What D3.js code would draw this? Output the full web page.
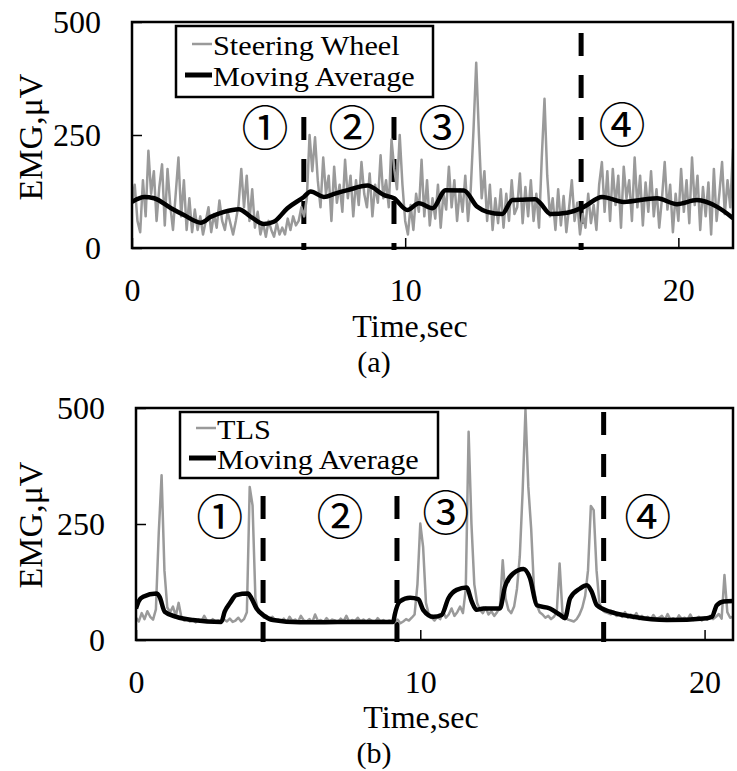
<!DOCTYPE html>
<html>
<head>
<meta charset="utf-8">
<script src="https://cdn.jsdelivr.net/npm/d3@7"></script>
<style>
    body { margin: 0; background: #fff; }
    text { font-family: "Liberation Serif", "Times New Roman", serif; fill: #000; }
</style>
</head>
<body>
<div id="chart"></div>
<script>
// sampling step of the raw EMG traces, seconds
const rawStep = 0.1;

// (a) steering wheel EMG, one value every 0.1 s from 0 to 22 s
const steeringRaw = [
    100, 140, 60, 35, 150, 70,
    215, 120, 170, 60, 135,
    185, 50, 175, 95, 40,
    120, 200, 70, 150, 40,
    110, 35, 85, 40, 70,
    30, 60, 90, 35, 75,
    45, 105, 60, 40, 80,
    55, 30, 60, 95, 175,
    90, 160, 60, 130, 45,
    80, 30, 55, 25, 60,
    40, 25, 55, 30, 45,
    30, 65, 40, 70, 50,
    60, 90, 70,
    110, 250, 170, 245, 150, 90, 200, 120, 160, 60, 180, 100,
    140, 80, 195, 110, 160,
    70, 150, 95, 190, 120,
    90, 165, 70, 140, 100,
    205, 110, 150, 90, 240,
    175, 130, 250, 140, 60,
    30, 95, 40, 120, 80,
    195, 70, 150, 50, 110,
    65, 140, 45, 120, 85,
    180, 90, 150, 60, 130,
    80, 160, 60, 130, 260,
    410, 250, 110, 170, 60,
    140, 40, 110, 55, 130,
    45, 120, 60, 150, 75,
    90, 165, 55, 135, 70,
    150, 60, 120, 45, 200,
    330, 160, 70, 110, 40,
    130, 50, 115, 35, 90,
    150, 60, 100, 30, 75,
    45, 120, 55, 95, 40,
    140, 190, 80, 170, 60,
    175, 95, 160, 45, 180,
    110, 150, 60, 200, 90,
    160, 50, 145, 80, 170,
    70, 130, 45, 110, 190,
    85, 140, 35, 120, 60,
    175, 80, 150, 55, 200,
    95, 160, 40, 135, 70,
    145, 30, 175, 60, 120,
    190, 75, 150, 90, 220
];

// (a) moving average
const steeringAvgTime = [
    0, 0.45, 0.81, 1.43, 1.9, 2.52, 2.89, 3.37, 3.91, 4.35,
    4.83, 5.19, 5.69, 6.29, 6.54, 7.02, 7.46, 7.89, 8.62, 9.23,
    9.59, 10.08, 10.5, 11.0, 11.48, 12.15, 12.64, 13.0, 13.55, 13.92,
    14.3, 14.77, 14.95, 15.32, 15.93, 16.54, 17.21, 18.0, 19.22, 19.95,
    20.68, 21.42, 22.0
];
const steeringAvgValue = [
    102, 113, 110, 88, 73, 56, 69, 80, 86, 69,
    53, 58, 88, 113, 125, 113, 121, 128, 138, 117,
    110, 84, 99, 88, 128, 127, 91, 80, 75, 106,
    107, 108, 99, 75, 78, 91, 113, 102, 110, 97,
    106, 91, 66
];

// (a) phase boundaries, seconds
const steeringPhases = [6.29, 9.59, 16.44];

// (b) TLS EMG, one value every 0.1 s from 0 to 21 s
const tlsRaw = [
    48, 40, 58, 45, 62, 50, 44, 66, 230, 355,
    150, 70, 60, 72, 52, 80, 48, 42, 45, 40,
    43, 38, 44, 40, 52, 41, 39, 45, 40, 42,
    38, 44, 40, 46, 39, 42, 48, 40, 45, 60,
    330, 290, 90, 60, 55, 48, 52, 45, 50, 42,
    44, 40, 46, 38, 50, 41, 44, 39, 52, 42,
    40, 45, 38, 55, 41, 43, 39, 47, 40, 44,
    42, 38, 46, 40, 52, 39, 43, 41, 48, 40,
    44, 39, 45, 41, 38, 47, 40, 43, 39, 42,
    40, 38, 44, 36, 40, 45, 42, 48, 55, 120,
    251, 200, 80, 55, 48, 42, 50, 45, 62, 48,
    55, 68, 52, 60, 72, 58, 110, 449, 250, 120,
    80, 65, 58, 70, 55, 62, 52, 60, 70, 172,
    90, 65, 58, 72, 110, 180, 320, 496, 330, 240,
    110, 75, 60, 55, 48, 52, 45, 50, 60, 165,
    60, 48, 44, 42, 40, 45, 55, 70, 95, 150,
    289, 280, 150, 80, 65, 60, 58, 55, 62, 52,
    56, 50, 60, 48, 55, 47, 58, 45, 52, 46,
    50, 44, 54, 45, 48, 52, 43, 56, 44, 47,
    42, 53, 45, 48, 44, 55, 43, 46, 50, 42,
    48, 44, 52, 45, 50, 56, 46, 140, 60, 48,
    50
];

// (b) moving average
const tlsAvgTime = [
    0, 0.1, 0.25, 0.72, 0.83, 1.01, 1.42, 2.0, 3.0, 3.12,
    3.3, 3.53, 3.94, 4.06, 4.24, 4.47, 4.82, 5.76, 7.1, 9.05,
    9.1, 9.28, 9.64, 9.93, 10.1, 10.46, 10.75, 10.99, 11.28, 11.63,
    11.81, 11.98, 12.22, 12.8, 12.98, 13.28, 13.63, 13.86, 14.1, 14.56,
    14.92, 15.09, 15.27, 15.62, 15.86, 16.03, 16.21, 16.68, 17.5, 18.67,
    20.08, 20.26, 20.43, 20.67, 21.0
];
const tlsAvgValue = [
    68, 84, 93, 100, 93, 61, 50, 43, 39, 61,
    79, 97, 100, 90, 68, 54, 43, 38, 39, 39,
    54, 83, 91, 88, 65, 50, 54, 90, 108, 113,
    83, 65, 68, 68, 115, 144, 153, 133, 75, 68,
    54, 47, 90, 111, 118, 104, 75, 61, 50, 43,
    47, 50, 75, 83, 84
];

// (b) phase boundaries, seconds
const tlsPhases = [4.47, 9.18, 16.45];

const yTicks      = [0, 250, 500];
const xTicks      = [0, 10, 20];
const phaseNames  = ['①', '②', '③', '④'];
const yTitle      = 'EMG,μV';
const xTitle      = 'Time,sec';

const WIDTH  = 737;
const HEIGHT = 771;
const GRAY   = '#9a9a9a';

const panels = [
    {
        key: 'a', raw: steeringRaw, avgT: steeringAvgTime, avgV: steeringAvgValue,
        phases: steeringPhases, tMax: 22, rawName: 'Steering Wheel', caption: '(a)',
        box: { left: 132, right: 733, top: 22, bottom: 248 },
        legend: { x: 176, y: 26, w: 257, h: 71, row1: 55, row2: 86 },
        dashTop: 33,
        phaseAt: [[4.87, 265], [8.05, 265], [11.35, 265], [17.94, 272]],
        yTitleY: 137, xTitleX: 410, xTitleY: 337, captionY: 372
    },
    {
        key: 'b', raw: tlsRaw, avgT: tlsAvgTime, avgV: tlsAvgValue,
        phases: tlsPhases, tMax: 21, rawName: 'TLS', caption: '(b)',
        box: { left: 136, right: 733, top: 408, bottom: 640 },
        legend: { x: 180, y: 412, w: 258, h: 66, row1: 439, row2: 469 },
        dashTop: 412,
        phaseAt: [[2.95, 265], [7.18, 265], [10.9, 274], [18.0, 265]],
        yTitleY: 525, xTitleX: 421, xTitleY: 728, captionY: 763
    }
];

const svg = d3.select('#chart').append('svg')
    .attr('width', WIDTH)
    .attr('height', HEIGHT);

function drawPanel(p) {
    const b = p.box;
    const x = d3.scaleLinear().domain([0, p.tMax]).range([b.left, b.right]);
    const y = d3.scaleLinear().domain([0, 500]).range([b.bottom, b.top]);
    const g = svg.append('g').attr('class', 'panel-' + p.key);

    const clipId = 'clip-' + p.key;
    g.append('clipPath').attr('id', clipId)
        .append('rect')
        .attr('x', b.left).attr('y', b.top)
        .attr('width', b.right - b.left).attr('height', b.bottom - b.top);

    // phase boundaries
    g.selectAll('.phase')
        .data(p.phases)
        .enter().append('line')
        .attr('x1', d => x(d)).attr('x2', d => x(d))
        .attr('y1', p.dashTop).attr('y2', b.bottom + 2)
        .attr('stroke', '#000')
        .attr('stroke-width', 5)
        .attr('stroke-dasharray', '23 19');

    const plot = g.append('g').attr('clip-path', `url(#${clipId})`);

    const rawLine = d3.line()
        .x((d, i) => x(i * rawStep))
        .y(d => y(d));
    plot.append('path')
        .datum(p.raw)
        .attr('d', rawLine)
        .attr('fill', 'none')
        .attr('stroke', GRAY)
        .attr('stroke-width', 2.5)
        .attr('stroke-linejoin', 'round');

    const avgLine = d3.line()
        .curve(d3.curveMonotoneX)
        .x(i => x(p.avgT[i]))
        .y(i => y(p.avgV[i]));
    plot.append('path')
        .datum(d3.range(p.avgT.length))
        .attr('d', avgLine)
        .attr('fill', 'none')
        .attr('stroke', '#000')
        .attr('stroke-width', 4.5)
        .attr('stroke-linejoin', 'round');

    // axes with inward ticks
    const yAxis = d3.axisLeft(y).tickValues(yTicks).tickSizeInner(-10).tickSizeOuter(0).tickPadding(31);
    const xAxis = d3.axisBottom(x).tickValues(xTicks).tickSizeInner(-10).tickSizeOuter(0).tickPadding(30);

    const ya = g.append('g').attr('transform', `translate(${b.left},0)`).call(yAxis);
    const xa = g.append('g').attr('transform', `translate(0,${b.bottom})`).call(xAxis);
    [ya, xa].forEach(a => {
        a.attr('font-family', null).attr('font-size', null);
        a.select('.domain').remove();
        a.selectAll('line').attr('stroke', '#000').attr('stroke-width', 1.5);
        a.selectAll('text').attr('font-size', 32).attr('fill', '#000');
    });

    // frame
    g.append('rect')
        .attr('x', b.left).attr('y', b.top)
        .attr('width', b.right - b.left).attr('height', b.bottom - b.top)
        .attr('fill', 'none')
        .attr('stroke', '#000')
        .attr('stroke-width', 2.5);

    // legend (text slightly widened, like the original figure)
    const L = p.legend;
    const lg = g.append('g');
    lg.append('rect')
        .attr('x', L.x).attr('y', L.y).attr('width', L.w).attr('height', L.h)
        .attr('fill', '#fff').attr('stroke', '#000').attr('stroke-width', 2.5);
    lg.append('line')
        .attr('x1', L.x + 16).attr('x2', L.x + 36)
        .attr('y1', L.row1 - 11).attr('y2', L.row1 - 11)
        .attr('stroke', GRAY).attr('stroke-width', 2.5);
    lg.append('line')
        .attr('x1', L.x + 9).attr('x2', L.x + 36)
        .attr('y1', L.row2 - 11).attr('y2', L.row2 - 11)
        .attr('stroke', '#000').attr('stroke-width', 5);
    lg.selectAll('.legend-label')
        .data([[p.rawName, L.row1], ['Moving Average', L.row2]])
        .enter().append('text')
        .attr('transform', d => `translate(${L.x + 37},${d[1]}) scale(1.1,1)`)
        .attr('font-size', 27.5)
        .text(d => d[0]);

    // phase numbers
    g.selectAll('.phase-name')
        .data(phaseNames)
        .enter().append('text')
        .attr('x', (d, i) => x(p.phaseAt[i][0]))
        .attr('y', (d, i) => y(p.phaseAt[i][1]))
        .attr('dy', '0.36em')
        .attr('text-anchor', 'middle')
        .attr('font-size', 47)
        .style('font-family', '"Noto Sans CJK JP", "DejaVu Sans", sans-serif')
        .text(d => d);

    // titles
    g.append('text')
        .attr('transform', `translate(42,${p.yTitleY}) rotate(-90)`)
        .attr('text-anchor', 'middle')
        .attr('font-size', 34)
        .text(yTitle);
    g.append('text')
        .attr('x', p.xTitleX).attr('y', p.xTitleY)
        .attr('text-anchor', 'middle')
        .attr('font-size', 32)
        .text(xTitle);
    g.append('text')
        .attr('x', 374).attr('y', p.captionY)
        .attr('text-anchor', 'middle')
        .attr('font-size', 30)
        .text(p.caption);
}

panels.forEach(drawPanel);
</script>
</body>
</html>
